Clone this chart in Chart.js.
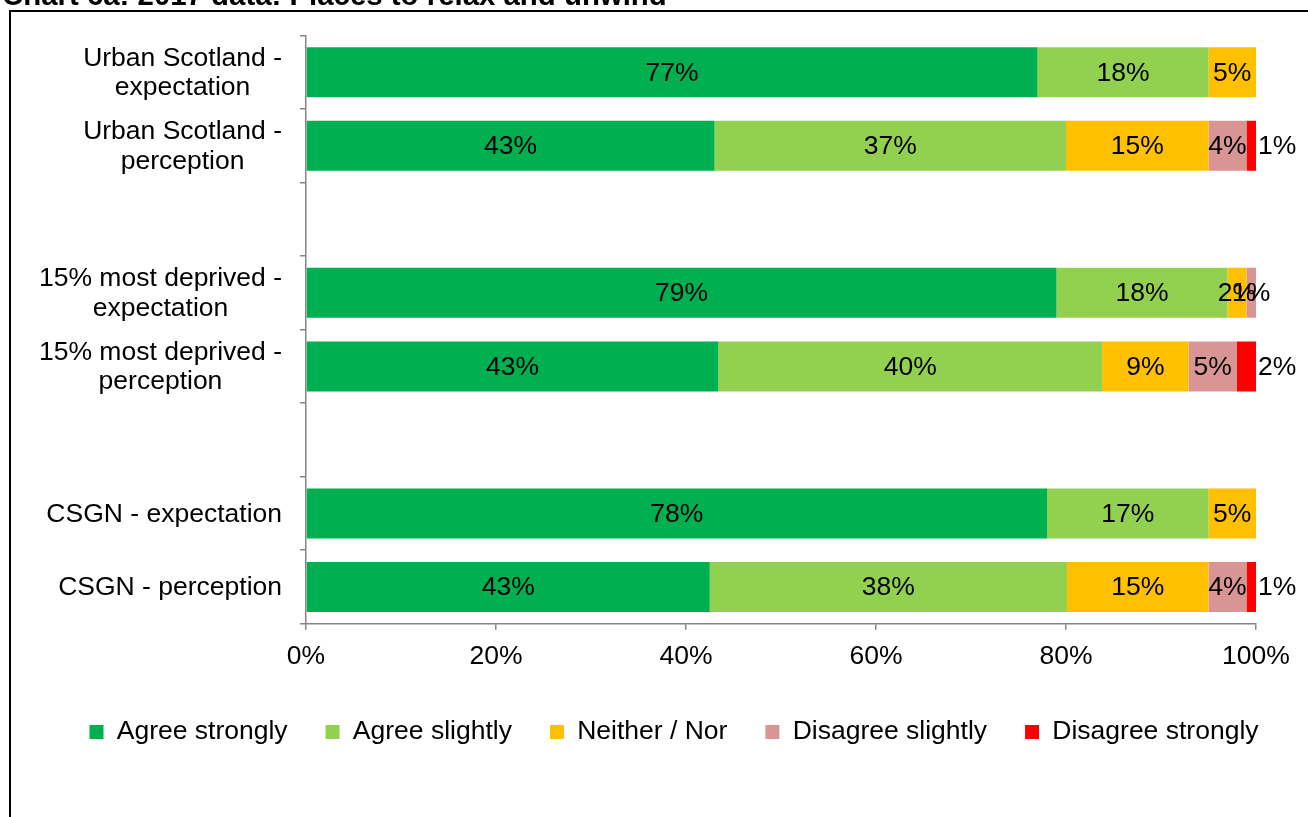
<!DOCTYPE html>
<html>
<head>
<meta charset="utf-8">
<script src="https://cdn.jsdelivr.net/npm/chart.js@4/dist/chart.umd.min.js"></script>
<style>
  html, body { margin: 0; padding: 0; background: #fff; overflow: hidden; }
  #frame { position: absolute; left: 9px; top: 10px; width: 1400px; height: 900px;
           border-top: 2px solid #000; border-left: 2px solid #000; }
  #chart { position: absolute; left: 0; top: 0; }
</style>
</head>
<body>
<div id="frame"></div>
<canvas id="chart" width="1308" height="817"></canvas>
<script>
const titleText = 'Chart 6a: 2017 data: Places to relax and unwind';

const categories = [
    ['Urban Scotland -', 'expectation'],
    ['Urban Scotland -', 'perception'],
    '',
    ['15% most deprived -', 'expectation'],
    ['15% most deprived -', 'perception'],
    '',
    'CSGN - expectation',
    'CSGN - perception'
];

const seriesNames = ['Agree strongly', 'Agree slightly', 'Neither / Nor', 'Disagree slightly', 'Disagree strongly'];
const seriesColors = ['#00B050', '#92D050', '#FFC000', '#D99594', '#FF0000'];

const agreeStrongly    = [77, 43, null, 79, 43.4, null, 78, 42.5];
const agreeSlightly    = [18, 37, null, 18, 40.4, null, 17, 37.6];
const neitherNor       = [5, 15, null, 2, 9.1, null, 5, 14.9];
const disagreeSlightly = [0, 4, null, 1, 5.1, null, 0, 4.0];
const disagreeStrongly = [0, 1, null, 0, 2.0, null, 0, 1.0];

const xTicks = [0, 20, 40, 60, 80, 100];

const FONT = 'Liberation Sans, Arial, sans-serif';
const FSIZE = 26.5;
const AXIS_GREY = '#868686';

const seriesData = [agreeStrongly, agreeSlightly, neitherNor, disagreeSlightly, disagreeStrongly];

// draws title, category labels and value labels; nudges legend to the right
const extras = {
    id: 'extras',
    afterLayout(chart) {
        chart.legend.left += 46;
        chart.legend.right += 46;
    },
    beforeDraw(chart) {
        const ctx = chart.ctx;
        ctx.save();
        ctx.font = 'bold 100px ' + FONT;
        const size = 100 * 665 / ctx.measureText(titleText).width;
        ctx.font = 'bold ' + size + 'px ' + FONT;
        ctx.fillStyle = '#000';
        ctx.textBaseline = 'alphabetic';
        ctx.fillText(titleText, 2, 5);
        ctx.restore();
    },
    afterDraw(chart) {
        const ctx = chart.ctx;
        const yScale = chart.scales.y;
        ctx.save();
        ctx.font = FSIZE + 'px ' + FONT;
        ctx.fillStyle = '#000';
        ctx.textBaseline = 'middle';
        ctx.textAlign = 'center';

        // category labels: block right aligned, lines centred
        categories.forEach((lab, i) => {
            const lines = Array.isArray(lab) ? lab : [lab];
            if (!lines[0]) return;
            const w = Math.max(...lines.map(l => ctx.measureText(l).width));
            const cx = 282 - w / 2;
            const cy = yScale.getPixelForValue(i);
            lines.forEach((l, j) => {
                ctx.fillText(l, cx, cy + (j - (lines.length - 1) / 2) * 29.5 + 1);
            });
        });

        // value labels
        chart.data.datasets.forEach((ds, di) => {
            const meta = chart.getDatasetMeta(di);
            meta.data.forEach((bar, i) => {
                const v = ds.data[i];
                if (!v) return;
                const txt = Math.round(v) + '%';
                if (di === chart.data.datasets.length - 1) {
                    ctx.textAlign = 'left';
                    ctx.fillText(txt, bar.x + 2, bar.y + 1);
                } else {
                    ctx.textAlign = 'center';
                    ctx.fillText(txt, (bar.x + bar.base) / 2, bar.y + 1);
                }
            });
        });
        ctx.restore();
    }
};

new Chart(document.querySelector('#chart').getContext('2d'), {
    type: 'bar',
    data: {
        labels: categories,
        datasets: seriesNames.map((name, k) => ({
            label: name,
            data: seriesData[k],
            backgroundColor: seriesColors[k],
            borderWidth: 0,
            barPercentage: 0.68,
            categoryPercentage: 1
        }))
    },
    options: {
        responsive: false,
        animation: false,
        indexAxis: 'y',
        layout: {
            padding: { left: 0, right: 52, top: 35.5, bottom: 61.75 }
        },
        scales: {
            x: {
                stacked: true,
                min: 0,
                max: 100,
                afterBuildTicks: s => { s.ticks = xTicks.map(v => ({ value: v })); },
                afterFit: s => { s.height = 57; },
                grid: {
                    drawOnChartArea: false,
                    drawTicks: true,
                    tickLength: 6,
                    color: AXIS_GREY,
                    lineWidth: 1.5
                },
                border: { color: AXIS_GREY, width: 1.5 },
                ticks: {
                    padding: 11,
                    color: '#000',
                    font: { family: FONT, size: FSIZE },
                    maxRotation: 0,
                    callback: v => v + '%'
                }
            },
            y: {
                stacked: true,
                afterFit: s => { s.width = 306; },
                grid: {
                    offset: true,
                    drawOnChartArea: false,
                    drawTicks: true,
                    tickLength: 6,
                    color: AXIS_GREY,
                    lineWidth: 1.5
                },
                border: { color: AXIS_GREY, width: 1.5 },
                ticks: { display: false }
            }
        },
        plugins: {
            legend: {
                position: 'bottom',
                labels: {
                    boxWidth: 14,
                    boxHeight: 14,
                    padding: 38,
                    color: '#000',
                    font: { family: FONT, size: FSIZE }
                }
            },
            tooltip: { enabled: false }
        }
    },
    plugins: [extras]
});
</script>
</body>
</html>
